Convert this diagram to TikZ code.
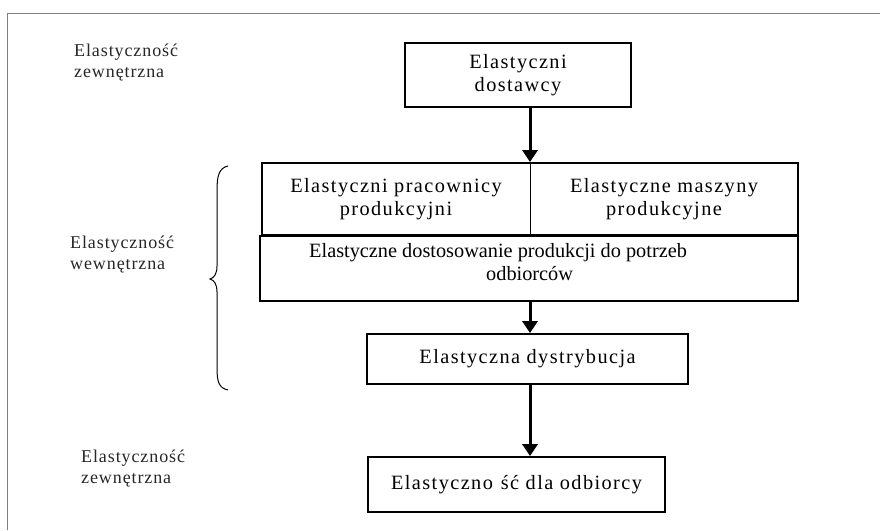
\documentclass[tikz,border=0pt]{standalone}
\usepackage{fontspec}
\setmainfont{Liberation Serif}
\newfontfamily\spaced[LetterSpace=7]{Liberation Serif}
\newfontfamily\lblfont[LetterSpace=5]{Liberation Serif}
\usetikzlibrary{arrows.meta}
\tikzset{
  box/.style={draw, line width=1.8pt, inner sep=0pt},
  boxtext/.style={font=\spaced\fontsize{20.3}{23.6}\selectfont, align=center, inner sep=0pt},
  sidelabel/.style={font=\lblfont\fontsize{18}{21}\selectfont, align=left, inner sep=0pt, anchor=north west, text=black!85},
  arr/.style={line width=3pt, -{Triangle[width=15pt,length=12pt]}},
}
\begin{document}
\begin{tikzpicture}[x=1pt,y=-1pt]
\useasboundingbox (0,0) rectangle (880,530);
% frame
\draw[gray, line width=1pt] (7,530) -- (7,13) -- (880,13);
\coordinate (axis) at (530,0);
% side labels
\node[sidelabel] (ext1) at (74,44) {Elastyczność\\zewnętrzna};
\node[sidelabel] (int) at (70,236) {Elastyczność\\wewnętrzna};
\node[sidelabel] (ext2) at (81,450) {Elastyczność\\zewnętrzna};
% boxes
\node[box, boxtext, minimum width=226pt, minimum height=64pt] (sup) at (518,75) {Elastyczni\\dostawcy};
\node[box, minimum width=536pt, minimum height=72pt] (row) at (530,199) {};
\node[boxtext] (work) at (396,199) {Elastyczni pracownicy\\produkcyjni};
\node[boxtext] (mach) at (664,199) {Elastyczne maszyny\\produkcyjne};
\draw[line width=0.8pt] (row.north -| axis) -- (row.south -| axis);
\node[box, minimum width=538pt, minimum height=65pt] (adapt) at (529,268.5) {};
\node[inner sep=0pt, anchor=north west, align=left, font=\fontsize{20.3}{23.6}\selectfont] (adapttext) at (309,243)
  {Elastyczne dostosowanie produkcji do potrzeb\\\hspace*{177pt}odbiorców};
\node[box, boxtext, minimum width=321pt, minimum height=50pt] (dist) at (527.5,359) {Elastyczna dystrybucja};
\node[box, boxtext, minimum width=297pt, minimum height=55pt] (cust) at (516.5,484.5) {Elastyczno\hspace{8pt}ść dla odbiorcy};
% arrows
\draw[arr] (sup.south -| axis) -- (row.north -| axis);
\draw[arr] (adapt.south -| axis) -- (dist.north -| axis);
\draw[arr] (dist.south -| axis) -- (cust.north -| axis);
% brace
\draw[line width=1pt] (228,166) .. controls (219,168) and (217,176) .. (217,190) -- (217,266)
  .. controls (217,274) and (214,278) .. (210,279)
  .. controls (214,280) and (217,284) .. (217,292) -- (217,368)
  .. controls (217,382) and (219,388) .. (228,390);
\end{tikzpicture}
\end{document}
